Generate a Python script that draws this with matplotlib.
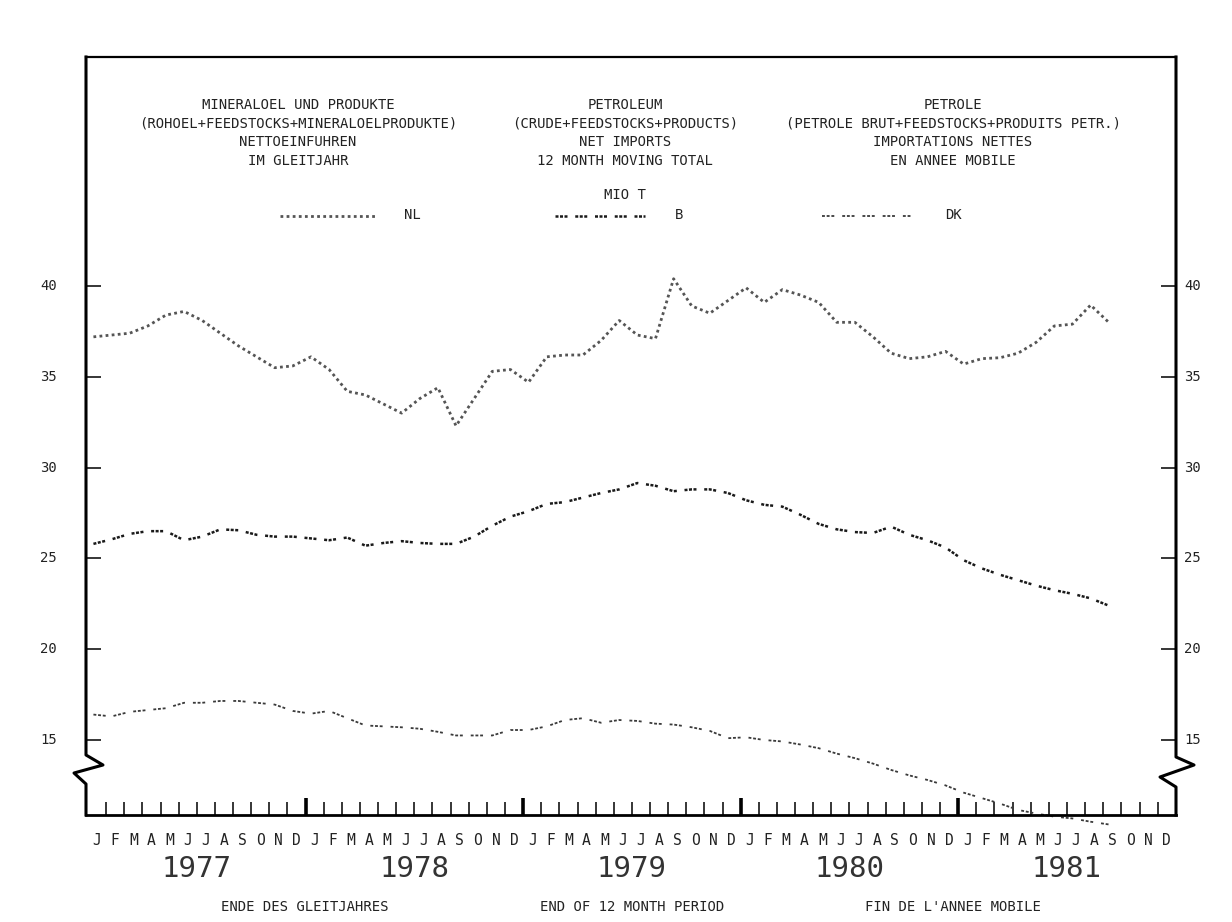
import numpy as np
import matplotlib
matplotlib.use("Agg")
import matplotlib.pyplot as plt
from matplotlib.lines import Line2D
from matplotlib.transforms import Affine2D, blended_transform_factory

# ---------------- data ----------------
month_letters = ["J", "F", "M", "A", "M", "J", "J", "A", "S", "O", "N", "D"]
years = ["1977", "1978", "1979", "1980", "1981"]
y_ticks = [15, 20, 25, 30, 35, 40]

# monthly 12-month moving totals, Jan 1977 .. Sep 1981 (Mio t)
nl = [37.2, 37.3, 37.4, 37.8, 38.4, 38.6, 38.1, 37.4, 36.7, 36.1,
      35.5, 35.6, 36.1, 35.4, 34.2, 34.0, 33.5, 33.0, 33.8, 34.4,
      32.3, 33.8, 35.3, 35.4, 34.7, 36.1, 36.2, 36.2, 37.0, 38.1,
      37.3, 37.1, 40.4, 38.9, 38.5, 39.2, 39.9, 39.1, 39.8, 39.5,
      39.1, 38.0, 38.0, 37.2, 36.3, 36.0, 36.1, 36.4, 35.7, 36.0,
      36.05, 36.3, 36.9, 37.8, 37.9, 38.95, 38.0]
b = [25.8, 26.05, 26.35, 26.5, 26.5, 26.0, 26.2, 26.6, 26.55, 26.3,
     26.2, 26.2, 26.1, 26.0, 26.15, 25.7, 25.85, 25.95, 25.85, 25.8,
     25.8, 26.2, 26.8, 27.3, 27.6, 28.0, 28.1, 28.35, 28.6, 28.8,
     29.15, 29.0, 28.7, 28.8, 28.8, 28.6, 28.2, 27.95, 27.85, 27.4,
     26.9, 26.6, 26.45, 26.4, 26.75, 26.3, 26.0, 25.6, 24.9, 24.45,
     24.1, 23.8, 23.5, 23.25, 23.05, 22.8, 22.4]
dk = [16.4, 16.3, 16.55, 16.65, 16.75, 17.05, 17.05, 17.15, 17.15, 17.05,
      16.95, 16.6, 16.45, 16.6, 16.2, 15.8, 15.75, 15.7, 15.62, 15.45,
      15.25, 15.25, 15.25, 15.55, 15.55, 15.75, 16.1, 16.2, 15.95, 16.1,
      16.05, 15.9, 15.85, 15.7, 15.5, 15.1, 15.15, 15.0, 14.92, 14.75,
      14.55, 14.25, 14.0, 13.7, 13.35, 13.05, 12.8, 12.5, 12.1, 11.8,
      11.5, 11.15, 10.95, 10.78, 10.68, 10.5, 10.35]

# ---------------- figure / geometry ----------------
W, H = 1232, 922
fig = plt.figure(figsize=(W / 100, H / 100), dpi=100)
fig.patch.set_facecolor("white")
PX = Affine2D().scale(1 / W, -1 / H).translate(0, 1) + fig.transFigure

FONT = "DejaVu Sans Mono"
X0, MW = 88.0, 18.13     # pixel of start of Jan 1977, month width
Y40, UH = 286.0, 18.16   # pixel of value 40, pixels per unit
L, R, T, Bt = 86, 1176, 57, 815

ax = fig.add_axes([L / W, 1 - Bt / H, (R - L) / W, (Bt - T) / H])
ax.set_xlim((L - X0) / MW, (R - X0) / MW)
ax.set_ylim(40 - (Bt - Y40) / UH, 40 + (Y40 - T) / UH)
ax.set_facecolor("none")

xs = np.arange(len(nl)) + 0.3

ls_nl = (0, (1.0, 1.2))
ls_b = (0, (1.2, 0.6, 1.2, 0.6, 1.2, 3.1))
ls_dk = (0, (1.6, 1.0, 1.6, 1.0, 1.6, 4.4))
st_nl = dict(color="#555555", lw=2.0, ls=ls_nl)
st_b = dict(color="#1a1a1a", lw=1.8, ls=ls_b)
st_dk = dict(color="#3a3a3a", lw=1.3, ls=ls_dk)

ax.plot(xs, nl, clip_on=False, **st_nl)
ax.plot(xs, b, clip_on=False, **st_b)
ax.plot(xs, dk, clip_on=False, **st_dk)

# spines / ticks
for s in ["left", "right"]:
    ax.spines[s].set_visible(False)
ax.spines["top"].set_linewidth(1.6)
ax.spines["bottom"].set_linewidth(2.0)

ax.set_xticks(list(range(12, 60, 12)))
ax.set_xticks([m for m in range(1, 60) if m % 12], minor=True)
ax.tick_params(axis="x", which="major", direction="in", length=12, width=2.6,
               labelbottom=False, top=False)
ax.tick_params(axis="x", which="minor", direction="in", length=9.5, width=1.1,
               labelbottom=False, top=False)
ax.set_yticks(y_ticks)
ax.tick_params(axis="y", which="major", direction="in", length=11, width=1.1,
               left=True, right=True, labelleft=False, labelright=False)
ax.tick_params(axis="y", which="minor", left=False, right=False)

# frame sides with axis-break zigzags
left_pts = [(86, 57), (86, 755), (103, 765), (74, 773), (86, 784), (86, 815)]
right_pts = [(1176, 57), (1176, 757), (1194, 765), (1160, 777), (1176, 787), (1176, 815)]
for pts in (left_pts, right_pts):
    xx, yy = zip(*pts)
    fig.add_artist(Line2D(xx, yy, transform=PX, color="black", lw=2.2))

# y labels
ty = blended_transform_factory(PX, ax.transData)
for v in y_ticks:
    fig.text(57, v, str(v), transform=ty, ha="right", va="center",
             family=FONT, fontsize=10, color="#222222")
    fig.text(1184, v, str(v), transform=ty, ha="left", va="center",
             family=FONT, fontsize=10, color="#222222")

# month letters and years
tx = blended_transform_factory(ax.transData, PX)
for i in range(60):
    fig.text(i + 0.5, 840, month_letters[i % 12], transform=tx, ha="center",
             va="center", family=FONT, fontsize=10.5, color="#222222")
for k, yr in enumerate(years):
    fig.text(12 * k + 6, 869, yr, transform=tx, ha="center", va="center",
             family=FONT, fontsize=21, color="#333333")

# headers
cols = [
    (298, ["MINERALOEL UND PRODUKTE", "(ROHOEL+FEEDSTOCKS+MINERALOELPRODUKTE)",
           "NETTOEINFUHREN", "IM GLEITJAHR"]),
    (625, ["PETROLEUM", "(CRUDE+FEEDSTOCKS+PRODUCTS)", "NET IMPORTS",
           "12 MONTH MOVING TOTAL"]),
    (953, ["PETROLE", "(PETROLE BRUT+FEEDSTOCKS+PRODUITS PETR.)",
           "IMPORTATIONS NETTES", "EN ANNEE MOBILE"]),
]
for cx, lines in cols:
    for j, txt in enumerate(lines):
        fig.text(cx, 105 + 18.7 * j, txt, transform=PX, ha="center", va="center",
                 family=FONT, fontsize=10, color="#222222")
fig.text(625, 195, "MIO T", transform=PX, ha="center", va="center",
         family=FONT, fontsize=10, color="#222222")

# legend
leg = [(280, 375, 412, "NL", st_nl), (555, 645, 679, "B", st_b),
       (822, 912, 953, "DK", st_dk)]
for x1, x2, xl, name, st in leg:
    fig.add_artist(Line2D([x1, x2], [216, 216], transform=PX, **st))
    fig.text(xl, 215, name, transform=PX, ha="center", va="center",
             family=FONT, fontsize=10, color="#222222")

# footer
for cx, txt in [(305, "ENDE DES GLEITJAHRES"), (632, "END OF 12 MONTH PERIOD"),
                (953, "FIN DE L'ANNEE MOBILE")]:
    fig.text(cx, 907, txt, transform=PX, ha="center", va="center",
             family=FONT, fontsize=10, color="#222222")

fig.savefig("out.png", dpi=100, facecolor="white")
